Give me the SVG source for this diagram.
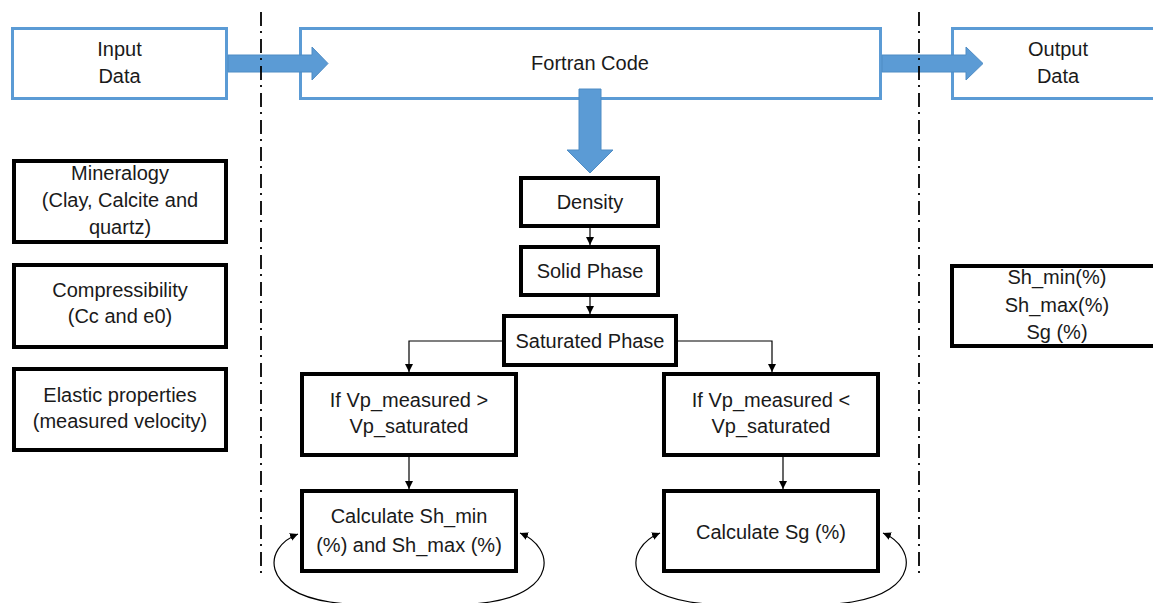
<svg xmlns="http://www.w3.org/2000/svg" width="1153" height="603" viewBox="0 0 1153 603">
<style>
.bbox{fill:#fff;stroke:#5b9bd5;stroke-width:3}
.kbox{fill:#fff;stroke:#000;stroke-width:4}
.barrow{fill:#5b9bd5;stroke:#4f8cc4;stroke-width:1}
.t{font-family:"Liberation Sans",Arial,sans-serif;font-size:20px;fill:#1a1a1a;text-anchor:middle}
.c{fill:none;stroke:#000;stroke-width:1.2}
.dd{stroke:#000;stroke-width:1.8;stroke-dasharray:14 5 2 6;fill:none}
</style>
<defs>
<marker id="ah" markerUnits="userSpaceOnUse" markerWidth="9" markerHeight="9" refX="8" refY="4" orient="auto-start-reverse">
<path d="M0,0 L8,4 L0,8 z" fill="#000"/>
</marker>
</defs>
<rect width="1153" height="603" fill="#fff"/>

<g id="input-data">
<rect class="bbox" x="12.5" y="28.5" width="214" height="70"/>
<text class="t" x="119.5" y="56">Input</text>
<text class="t" x="119.5" y="83">Data</text>
</g>
<g id="fortran-code">
<rect class="bbox" x="300.5" y="28.5" width="580" height="70"/>
<text class="t" x="590" y="70">Fortran Code</text>
</g>
<g id="output-data">
<rect class="bbox" x="952.5" y="28.5" width="214" height="70"/>
<text class="t" x="1058" y="56">Output</text>
<text class="t" x="1058" y="83">Data</text>
</g>

<g id="blue-arrows">
<polygon class="barrow" points="228,55 312,55 312,47 328,63.5 312,80 312,72 228,72"/>
<polygon class="barrow" points="882,55 966,55 966,47 983,63.5 966,80 966,72 882,72"/>
<polygon class="barrow" points="579,89 601,89 601,150 613,150 590,173 567,150 579,150"/>
</g>

<g id="mineralogy">
<rect class="kbox" x="14" y="161" width="212" height="81"/>
<text class="t" x="120" y="180">Mineralogy</text>
<text class="t" x="120" y="207">(Clay, Calcite and</text>
<text class="t" x="120" y="234">quartz)</text>
</g>
<g id="compressibility">
<rect class="kbox" x="14" y="265" width="212" height="82"/>
<text class="t" x="120" y="297">Compressibility</text>
<text class="t" x="120" y="323">(Cc and e0)</text>
</g>
<g id="elastic">
<rect class="kbox" x="14" y="369" width="212" height="81"/>
<text class="t" x="120" y="402">Elastic properties</text>
<text class="t" x="120" y="428">(measured velocity)</text>
</g>

<g id="density">
<rect class="kbox" x="521" y="178" width="137" height="48"/>
<text class="t" x="590" y="209">Density</text>
</g>
<g id="solid-phase">
<rect class="kbox" x="521" y="247" width="137" height="48"/>
<text class="t" x="590" y="278">Solid Phase</text>
</g>
<g id="saturated-phase">
<rect class="kbox" x="504" y="316" width="172" height="49"/>
<text class="t" x="590" y="348">Saturated Phase</text>
</g>
<g id="if-greater">
<rect class="kbox" x="302" y="374" width="214" height="81"/>
<text class="t" x="409" y="407">If Vp_measured &gt;</text>
<text class="t" x="409" y="433">Vp_saturated</text>
</g>
<g id="if-less">
<rect class="kbox" x="664" y="374" width="214" height="81"/>
<text class="t" x="771" y="407">If Vp_measured &lt;</text>
<text class="t" x="771" y="433">Vp_saturated</text>
</g>
<g id="calc-sh">
<rect class="kbox" x="302" y="491" width="214" height="80"/>
<text class="t" x="409" y="523">Calculate Sh_min</text>
<text class="t" x="409" y="552">(%) and Sh_max (%)</text>
</g>
<g id="calc-sg">
<rect class="kbox" x="664" y="491" width="214" height="80"/>
<text class="t" x="771" y="539">Calculate Sg (%)</text>
</g>
<g id="results">
<rect class="kbox" x="952" y="266" width="230" height="80"/>
<text class="t" x="1057" y="284">Sh_min(%)</text>
<text class="t" x="1057" y="312">Sh_max(%)</text>
<text class="t" x="1057" y="339">Sg (%)</text>
</g>

<g id="connectors">
<line class="c" x1="590" y1="228" x2="590" y2="245" marker-end="url(#ah)"/>
<line class="c" x1="590" y1="297" x2="590" y2="314" marker-end="url(#ah)"/>
<polyline class="c" points="502,341 409,341 409,372" marker-end="url(#ah)"/>
<polyline class="c" points="678,341 772,341 772,372" marker-end="url(#ah)"/>
<line class="c" x1="409" y1="457" x2="409" y2="489" marker-end="url(#ah)"/>
<line class="c" x1="783" y1="457" x2="783" y2="489" marker-end="url(#ah)"/>
<path class="c" stroke-width="1.6" d="M298,534 C262,548 262,592 330,602 C370,608 450,608 490,602 C556,592 556,548 520,533" marker-start="url(#ah)" marker-end="url(#ah)"/>
<path class="c" stroke-width="1.6" d="M660,533 C624,548 624,592 690,602 C730,608 812,608 852,602 C918,592 918,548 883,533" marker-start="url(#ah)" marker-end="url(#ah)"/>
</g>

<g id="separators">
<line class="dd" x1="261" y1="12" x2="261" y2="578"/>
<line class="dd" x1="919" y1="12" x2="919" y2="578"/>
</g>
</svg>
